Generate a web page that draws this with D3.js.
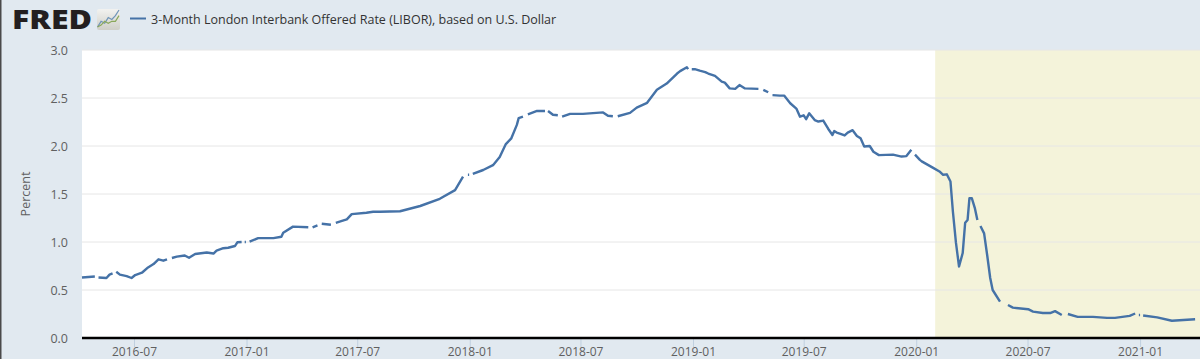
<!DOCTYPE html>
<html>
<head>
<meta charset="utf-8">
<script src="https://cdnjs.cloudflare.com/ajax/libs/d3/7.8.5/d3.min.js"></script>
<style>
html, body { margin: 0; padding: 0; background: #e1e9f0; }
svg { display: block; }
text { font-family: "Open Sans", sans-serif; }
</style>
</head>
<body>
<svg id="chart" width="1200" height="359"></svg>
<script>
var seriesName = "3-Month London Interbank Offered Rate (LIBOR), based on U.S. Dollar"
var yLabel = "Percent"
var yTicks = [0, 0.5, 1, 1.5, 2, 2.5, 3]
var xTicks = ["2016-07-01", "2017-01-01", "2017-07-01", "2018-01-01", "2018-07-01",
    "2019-01-01", "2019-07-01", "2020-01-01", "2020-07-01", "2021-01-01"]
var xRange = ["2016-04-07", "2021-04-09"]
var recession = ["2020-02-01", "2021-04-09"]

// null = no observation, leaves a hole in the line
var dates = [
    "2016-04-07", "2016-04-28", "2016-05-01", "2016-05-04", "2016-05-17", "2016-05-22", "2016-05-27", "2016-05-30",
    "2016-06-02", "2016-06-08", "2016-06-19", "2016-06-27", "2016-07-03", "2016-07-14", "2016-07-24", "2016-08-02",
    "2016-08-10", "2016-08-18", "2016-08-24", "2016-08-28", "2016-09-01", "2016-09-09", "2016-09-22", "2016-09-29",
    "2016-10-09", "2016-10-28", "2016-11-08", "2016-11-13", "2016-11-24", "2016-12-02", "2016-12-13", "2016-12-17",
    "2016-12-24", "2016-12-27", "2016-12-29", "2016-12-31", "2017-01-03", "2017-01-06", "2017-01-20", "2017-02-14",
    "2017-02-27", "2017-03-02", "2017-03-18", "2017-04-12", "2017-04-16", "2017-04-19", "2017-04-27", "2017-05-01",
    "2017-05-04", "2017-05-19", "2017-05-23", "2017-05-27", "2017-06-06", "2017-06-14", "2017-06-22", "2017-07-16",
    "2017-07-27", "2017-08-07", "2017-09-09", "2017-10-12", "2017-11-13", "2017-12-08", "2017-12-21", "2017-12-25",
    "2017-12-29", "2017-12-31", "2018-01-03", "2018-01-06", "2018-01-23", "2018-02-08", "2018-02-19", "2018-03-01",
    "2018-03-10", "2018-03-19", "2018-03-22", "2018-03-29", "2018-04-02", "2018-04-06", "2018-04-21", "2018-05-04",
    "2018-05-06", "2018-05-09", "2018-05-17", "2018-05-25", "2018-05-28", "2018-06-01", "2018-06-14", "2018-07-05",
    "2018-08-07", "2018-08-15", "2018-08-23", "2018-08-27", "2018-08-31", "2018-09-20", "2018-10-01", "2018-10-18",
    "2018-11-03", "2018-11-19", "2018-12-06", "2018-12-11", "2018-12-22", "2018-12-24", "2018-12-27", "2018-12-30",
    "2019-01-04", "2019-01-12", "2019-01-21", "2019-01-26", "2019-02-06", "2019-02-17", "2019-02-22", "2019-03-02",
    "2019-03-11", "2019-03-18", "2019-03-27", "2019-04-18", "2019-04-22", "2019-04-26", "2019-05-04", "2019-05-08",
    "2019-05-11", "2019-05-23", "2019-05-30", "2019-06-09", "2019-06-19", "2019-06-25", "2019-07-01", "2019-07-05",
    "2019-07-10", "2019-07-19", "2019-07-25", "2019-08-02", "2019-08-10", "2019-08-17", "2019-08-20", "2019-08-24",
    "2019-08-29", "2019-09-06", "2019-09-11", "2019-09-19", "2019-09-26", "2019-10-02", "2019-10-08", "2019-10-17",
    "2019-10-23", "2019-11-01", "2019-11-24", "2019-12-08", "2019-12-16", "2019-12-24", "2019-12-27", "2019-12-30",
    "2020-01-07", "2020-01-10", "2020-01-28", "2020-02-08", "2020-02-14", "2020-02-20", "2020-02-26", "2020-03-01",
    "2020-03-06", "2020-03-11", "2020-03-17", "2020-03-21", "2020-03-25", "2020-03-28", "2020-04-01", "2020-04-06",
    "2020-04-10", "2020-04-12", "2020-04-15", "2020-04-21", "2020-04-26", "2020-05-01", "2020-05-05", "2020-05-17",
    "2020-05-22", "2020-05-30", "2020-06-07", "2020-07-02", "2020-07-10", "2020-07-26", "2020-08-07", "2020-08-15",
    "2020-08-26", "2020-08-31", "2020-09-05", "2020-09-21", "2020-10-16", "2020-11-08", "2020-11-21", "2020-12-15",
    "2020-12-24", "2020-12-27", "2020-12-30", "2021-01-01", "2021-01-04", "2021-01-06", "2021-01-29", "2021-02-22",
    "2021-04-01"
]
var rates = [
    0.63, 0.64, null, 0.63, 0.625, 0.66, 0.673, null,
    0.69, 0.66, 0.645, 0.625, 0.656, 0.68, 0.735, 0.77,
    0.82, 0.805, 0.82, null, 0.833, 0.847, 0.86, 0.836,
    0.875, 0.89, 0.88, 0.91, 0.935, 0.94, 0.958, 0.997,
    1.0, null, 1.0, 1.0, null, 1.003, 1.04, 1.04,
    1.055, 1.097, 1.16, 1.153, null, 1.153, 1.173, null,
    1.19, 1.18, null, 1.2, 1.22, 1.235, 1.29, 1.305,
    1.315, 1.315, 1.32, 1.375, 1.45, 1.54, 1.68, null,
    1.7, 1.7, null, 1.71, 1.75, 1.8, 1.885, 2.02,
    2.08, 2.22, 2.29, 2.305, null, 2.33, 2.365, 2.365,
    null, 2.365, 2.325, 2.32, null, 2.305, 2.335, 2.335,
    2.35, 2.315, 2.31, null, 2.31, 2.345, 2.4, 2.45,
    2.585, 2.65, 2.755, 2.78, 2.82, 2.8, null, 2.8,
    2.8, 2.785, 2.77, 2.755, 2.73, 2.67, 2.66, 2.6,
    2.595, 2.635, 2.6, 2.595, null, 2.585, 2.56, null,
    2.53, 2.525, 2.525, 2.445, 2.39, 2.305, 2.32, 2.28,
    2.34, 2.27, 2.255, 2.265, 2.18, 2.115, 2.155, 2.14,
    2.13, 2.11, 2.14, 2.165, 2.105, 2.08, 1.995, 2.0,
    1.94, 1.905, 1.91, 1.89, 1.895, 1.96, null, 1.91,
    1.855, 1.84, 1.775, 1.735, 1.7, 1.705, 1.63, 1.315,
    0.99, 0.745, 0.885, 1.2, 1.23, 1.455, 1.455, 1.35,
    1.23, null, 1.167, 1.09, 0.865, 0.625, 0.5, 0.38,
    null, 0.344, 0.316, 0.3, 0.275, 0.26, 0.26, 0.28,
    0.24, null, 0.25, 0.22, 0.22, 0.21, 0.21, 0.23,
    0.255, null, 0.24, 0.24, null, 0.235, 0.215, 0.18,
    0.195
]

// little chart in the logo tile
var logoBlue = [0, 3, 2, 5, 4, 6, 9]
var logoGreen = [0, 1, 3, 2, 3, 3, 6]

var parseDate = d3.timeParse("%Y-%m-%d")
var width = 1200, height = 359
var plotLeft = 82, plotRight = 1200, plotTop = 50, plotBottom = 338

var svg = d3.select("#chart")

var x = d3.scaleTime()
    .domain(xRange.map(parseDate))
    .range([plotLeft, plotRight])

var y = d3.scaleLinear()
    .domain([0, 3])
    .range([plotBottom, plotTop])

// frame edge and plot background
svg.append("rect").attr("x", 0).attr("y", 0).attr("width", 1.5).attr("height", height).attr("fill", "#4a4a4a")
svg.append("rect")
    .attr("x", plotLeft).attr("y", plotTop)
    .attr("width", plotRight - plotLeft).attr("height", plotBottom - plotTop)
    .attr("fill", "#ffffff")

svg.append("rect")
    .attr("x", x(parseDate(recession[0]))).attr("y", plotTop)
    .attr("width", x(parseDate(recession[1])) - x(parseDate(recession[0])))
    .attr("height", plotBottom - plotTop)
    .attr("fill", "#f4f3da")

// grid + y labels
var yAxis = svg.append("g")
    .attr("transform", "translate(" + plotLeft + ",0)")
    .call(d3.axisLeft(y).tickValues(yTicks).tickFormat(d3.format(".1f")).tickSize(0).tickPadding(14))
yAxis.select(".domain").remove()
yAxis.selectAll("text").attr("font-size", 12.5).attr("fill", "#606060").attr("font-family", "Open Sans")
svg.append("g").selectAll("line").data(yTicks.filter(function(d) { return d > 0 })).enter().append("line")
    .attr("x1", plotLeft).attr("x2", plotRight)
    .attr("y1", function(d) { return y(d) }).attr("y2", function(d) { return y(d) })
    .attr("stroke", "#e6e6e6").attr("stroke-width", 1)

// x axis
var xAxis = svg.append("g")
    .attr("transform", "translate(0," + plotBottom + ")")
    .call(d3.axisBottom(x).tickValues(xTicks.map(parseDate)).tickFormat(d3.timeFormat("%Y-%m")).tickSize(9).tickPadding(0))
xAxis.select(".domain").remove()
xAxis.selectAll("line").attr("stroke", "#c0d0e0")
xAxis.selectAll("text").attr("font-size", 12).attr("fill", "#606060").attr("font-family", "Open Sans")
svg.append("line")
    .attr("x1", plotLeft).attr("x2", plotRight).attr("y1", plotBottom).attr("y2", plotBottom)
    .attr("stroke", "#000000").attr("stroke-width", 2.5)

svg.append("text")
    .attr("transform", "translate(30," + ((plotTop + plotBottom) / 2) + ") rotate(-90)")
    .attr("text-anchor", "middle")
    .attr("font-size", 12.5).attr("fill", "#606060")
    .text(yLabel)

// the series
var line = d3.line()
    .defined(function(d) { return d != null })
    .x(function(d, i) { return x(parseDate(dates[i])) })
    .y(function(d) { return y(d) })

svg.append("path")
    .attr("d", line(rates))
    .attr("fill", "none")
    .attr("stroke", "#4572a7")
    .attr("stroke-width", 2.4)
    .attr("stroke-linejoin", "round")

// header: logo + legend
svg.append("text")
    .attr("x", 12).attr("y", 29)
    .attr("font-family", "Inter, sans-serif")
    .attr("font-weight", 800).attr("font-size", 26)
    .attr("textLength", 80).attr("lengthAdjust", "spacingAndGlyphs")
    .attr("fill", "#231f20")
    .text("FRED")

var logo = svg.append("g").attr("transform", "translate(97,9)")
var tile = svg.append("defs").append("linearGradient")
    .attr("id", "tile").attr("x1", 0).attr("x2", 0).attr("y1", 0).attr("y2", 1)
tile.append("stop").attr("offset", 0).attr("stop-color", "#f2f2f0")
tile.append("stop").attr("offset", 1).attr("stop-color", "#cfcfc8")
logo.append("rect").attr("width", 23).attr("height", 21).attr("rx", 2).attr("fill", "url(#tile)")
var lx = d3.scaleLinear().domain([0, 6]).range([0.5, 22])
var ly = d3.scaleLinear().domain([0, 9]).range([18, 1])
logo.append("path")
    .attr("d", d3.line().x(function(d, i) { return lx(i) }).y(function(d) { return ly(d) })(logoBlue))
    .attr("fill", "none").attr("stroke", "#6f94b8").attr("stroke-width", 1.2)
logo.append("path")
    .attr("d", d3.line().x(function(d, i) { return lx(i) }).y(function(d) { return ly(d) })(logoGreen))
    .attr("fill", "none").attr("stroke", "#8aa85a").attr("stroke-width", 1.2)

svg.append("line")
    .attr("x1", 130).attr("x2", 146).attr("y1", 18.5).attr("y2", 18.5)
    .attr("stroke", "#4572a7").attr("stroke-width", 2)
svg.append("text")
    .attr("x", 151).attr("y", 24)
    .attr("font-size", 12.5).attr("fill", "#333333")
    .text(seriesName)
</script>
</body>
</html>
